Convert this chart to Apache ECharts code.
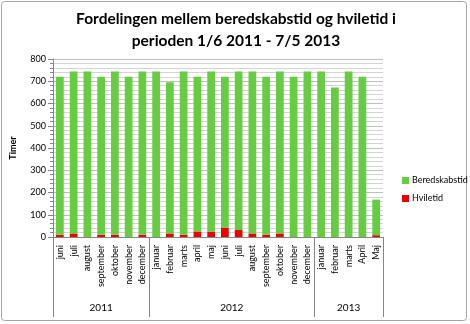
<!DOCTYPE html>
<html>
<head>
<meta charset="utf-8">
<script src="https://cdn.jsdelivr.net/npm/echarts@6/dist/echarts.min.js"></script>
<style>
html,body{margin:0;padding:0;background:#fff;}
#chart{width:470px;height:324px;}
</style>
</head>
<body>
<div id="chart"></div>
<script>
var months = ['juni','juli','august','september','oktober','november','december',
  'januar','februar','marts','april','maj','juni','juli','august','september','oktober','november','december',
  'januar','februar','marts','April','Maj'];
var years = ['2011','2012','2013'];
var yearCounts = [7, 12, 5];
var beredskabstid = [710,728,744,710,734,720,734, 744,680,734,695,720,678,712,728,710,728,720,744, 744,672,744,720,160];
var hviletid = [10,16,0,10,10,0,10, 0,16,10,25,24,42,32,16,10,16,0,0, 0,0,0,0,8];
var yTicks = [0,100,200,300,400,500,600,700,800];

// build half-step category list for the year axis
var total = months.length;
var yearAxisData = [];
for (var k = 0; k <= total * 2; k++) yearAxisData.push('');
var boundaries = {0: true};
var start = 0;
for (var i = 0; i < years.length; i++) {
  var center = start + yearCounts[i] / 2;
  yearAxisData[Math.round(center * 2)] = years[i];
  start += yearCounts[i];
  boundaries[start * 2] = true;
}

var font = 'Lato, "Open Sans", sans-serif';
var chart = echarts.init(document.getElementById('chart'), null, {renderer: 'canvas'});
chart.setOption({
  animation: false,
  backgroundColor: '#fff',
  textStyle: {fontFamily: font},
  graphic: [{
    type: 'rect',
    shape: {x: 1.5, y: 1.5, width: 465, height: 319, r: 3},
    style: {fill: 'none', stroke: '#a6a6a6', lineWidth: 1},
    silent: true
  }],
  title: {
    text: 'Fordelingen mellem beredskabstid og hviletid i\nperioden 1/6 2011 - 7/5 2013',
    left: 231,
    textAlign: 'center',
    top: 3,
    textStyle: {fontFamily: font, fontSize: 15.5, fontWeight: 'bold', color: '#000', lineHeight: 22}
  },
  legend: {
    orient: 'vertical',
    left: 397,
    top: 171,
    itemWidth: 7,
    itemHeight: 7,
    itemGap: 9,
    icon: 'rect',
    data: ['Beredskabstid', 'Hviletid'],
    textStyle: {fontFamily: font, fontSize: 9, color: '#000', padding: [0,0,0,-2]}
  },
  grid: {left: 53, right: 87, top: 59, bottom: 87, containLabel: false},
  xAxis: [{
    type: 'category',
    data: months,
    axisLine: {show: true, lineStyle: {color: '#868686'}},
    axisTick: {show: false},
    axisLabel: {rotate: 90, interval: 0, fontSize: 9, color: '#000', margin: 8, fontFamily: font}
  }, {
    type: 'category',
    position: 'bottom',
    boundaryGap: false,
    data: yearAxisData,
    axisLine: {show: false},
    axisTick: {
      show: true,
      length: 80,
      interval: function (idx) { return !!boundaries[idx]; },
      lineStyle: {color: '#868686'}
    },
    axisLabel: {interval: 0, fontSize: 10, color: '#000', margin: 66, fontFamily: font}
  }],
  yAxis: {
    type: 'value',
    min: yTicks[0],
    max: yTicks[yTicks.length - 1],
    interval: 100,
    name: 'Timer',
    nameLocation: 'middle',
    nameRotate: 90,
    nameGap: 35,
    nameTextStyle: {fontFamily: font, fontSize: 9, fontWeight: 'bold', color: '#000'},
    axisLine: {show: true, lineStyle: {color: '#868686'}},
    axisTick: {show: true, length: 5, lineStyle: {color: '#868686'}},
    minorTick: {show: true, splitNumber: 5, length: 3, lineStyle: {color: '#868686'}},
    splitLine: {show: true, lineStyle: {color: '#bfbfbf'}},
    minorSplitLine: {show: true, lineStyle: {color: '#d4d4d4'}},
    axisLabel: {fontSize: 9, color: '#000', margin: 7, fontFamily: font}
  },
  series: [{
    name: 'Hviletid',
    type: 'bar',
    stack: 'tid',
    barWidth: '56%',
    itemStyle: {color: '#ee0000'},
    data: hviletid
  }, {
    name: 'Beredskabstid',
    type: 'bar',
    stack: 'tid',
    barWidth: '56%',
    itemStyle: {color: '#66cc40'},
    data: beredskabstid
  }]
});
</script>
</body>
</html>
